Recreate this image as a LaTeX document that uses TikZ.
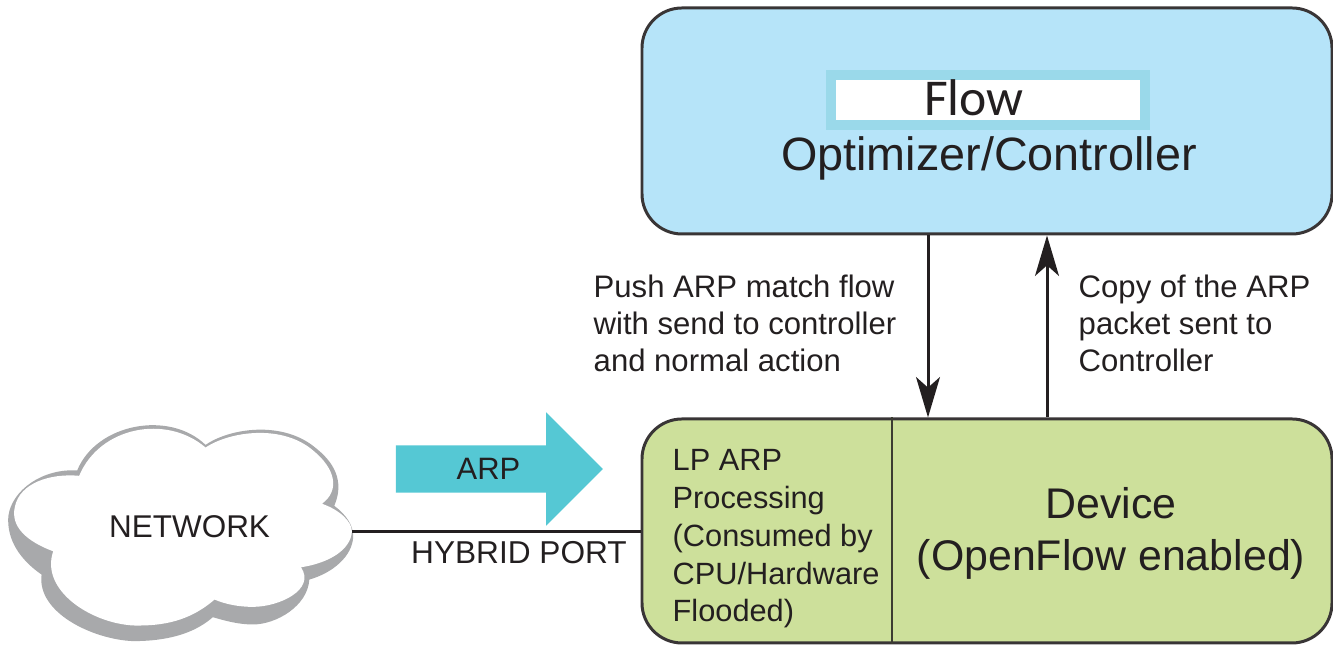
\documentclass[tikz,border=0pt]{standalone}
\usepackage{fontspec}
\setmainfont{Liberation Sans}
\newfontfamily\flowfont{Carlito}
\usetikzlibrary{arrows.meta,shapes.arrows}
\definecolor{inkdark}{HTML}{231F20}
\definecolor{ctrlblue}{HTML}{B6E4F9}
\definecolor{flowedge}{HTML}{9AD9EA}
\definecolor{devgreen}{HTML}{CDE09B}
\definecolor{arpteal}{HTML}{55C8D4}
\definecolor{cloudgray}{HTML}{A8A9AB}
\tikzset{
  panel/.style={draw=inkdark!90,line width=0.85pt,rounded corners=0.4cm,minimum width=6.9cm,inner sep=0pt},
  note/.style={align=left,anchor=west,text=inkdark,font=\fontsize{8.85}{10.5}\selectfont,inner sep=0pt},
  flowline/.style={draw=inkdark,line width=0.85pt,-{Stealth[length=11.5pt,width=6.8pt,inset=3pt]}}
}
\begin{document}
\begin{tikzpicture}
\useasboundingbox (0,0) rectangle (13.33,6.45);
% top box
\node[panel,fill=ctrlblue,minimum height=2.26cm] (controller) at (9.87,5.24) {};
\node[fill=white,draw=flowedge,line width=0.1cm,minimum width=3.14cm,minimum height=0.5cm,inner sep=0pt] (flowbox) at (9.88,5.45) {};
\node[text=inkdark,font=\flowfont\fontsize{14.7}{15}\selectfont,inner sep=0pt] (flowtext) at (9.74,5.47) {Flow};
\node[text=inkdark,font=\fontsize{13.3}{15}\selectfont,inner sep=0pt] (optimizer) at (9.89,4.87) {Optimizer/Controller};
% bottom box
\node[panel,fill=devgreen,minimum height=2.24cm] (device) at (9.87,1.14) {};
\coordinate (splitx) at (8.92,0);
\draw[inkdark!85!devgreen,line width=0.6pt] (splitx |- device.north) -- (splitx |- device.south);
\node[note,font=\fontsize{8.75}{10.75}\selectfont] (lptext) at (6.72,1.06) {LP ARP\\Processing\\(Consumed by\\CPU/Hardware\\Flooded)};
\node[text=inkdark,align=center,font=\fontsize{12.2}{14.8}\selectfont,inner sep=0pt] (devtext) at (11.11,1.12) {Device\\(OpenFlow enabled)};
% push and copy arrows
\coordinate (pushx) at (9.28,0);
\coordinate (copyx) at (10.47,0);
\draw[flowline] (pushx |- controller.south) -- (pushx |- device.north);
\draw[flowline] (copyx |- device.north) -- (copyx |- controller.south);
\node[note] (pushtext) at (5.93,3.22) {Push ARP match flow\\with send to controller\\and normal action};
\node[note] (copytext) at (10.78,3.22) {Copy of the ARP\\packet sent to\\Controller};
% cloud, drawn in 3x crop pixels
\begin{scope}[shift={(0,2.45)},x=0.003333cm,y=-0.003333cm]
\fill[cloudgray] (618,135) .. controls (690,85) and (850,60) .. (950,145) .. controls (1020,200) and (1030,260) .. (1005,318)
  .. controls (1040,345) and (1062,375) .. (1062,410) .. controls (1060,470) and (1000,520) .. (930,540)
  .. controls (925,620) and (830,675) .. (760,675) .. controls (720,675) and (680,665) .. (640,653)
  .. controls (570,715) and (470,725) .. (400,725) .. controls (280,720) and (110,640) .. (125,525)
  .. controls (60,480) and (20,420) .. (25,350) .. controls (35,270) and (130,205) .. (232,212)
  .. controls (290,70) and (510,30) .. (618,135) -- cycle;
\fill[white] (618,143) .. controls (690,95) and (850,70) .. (945,155) .. controls (1005,205) and (1025,270) .. (968,312)
  .. controls (1020,330) and (1058,365) .. (1058,395) .. controls (1055,450) and (990,490) .. (905,503)
  .. controls (950,570) and (840,622) .. (760,622) .. controls (720,622) and (680,615) .. (645,600)
  .. controls (570,665) and (490,680) .. (400,678) .. controls (270,670) and (120,570) .. (160,455)
  .. controls (80,425) and (30,380) .. (45,320) .. controls (60,250) and (150,220) .. (238,228)
  .. controls (300,80) and (500,42) .. (618,143) -- cycle;
\coordinate (cloudport) at (1058,395);
\node[text=inkdark,font=\fontsize{8.95}{11}\selectfont,inner sep=0pt] (network) at (570,380) {NETWORK};
\end{scope}
% port line and arp arrow
\draw[inkdark,line width=0.85pt] (cloudport) -- (cloudport -| device.west);
\node[text=inkdark,font=\fontsize{9}{11}\selectfont,inner sep=0pt] (hybrid) at (5.19,0.92) {HYBRID PORT};
\node[single arrow,fill=arpteal,minimum height=2.07cm,single arrow head extend=0.33cm,single arrow head indent=0pt,inner xsep=0pt,inner ysep=0.23cm] (arparrow) at (4.875,1.76) {};
\node[text=inkdark,font=\fontsize{8.8}{11}\selectfont,inner sep=0pt] (arptext) at (4.885,1.76) {ARP};
\end{tikzpicture}
\end{document}
